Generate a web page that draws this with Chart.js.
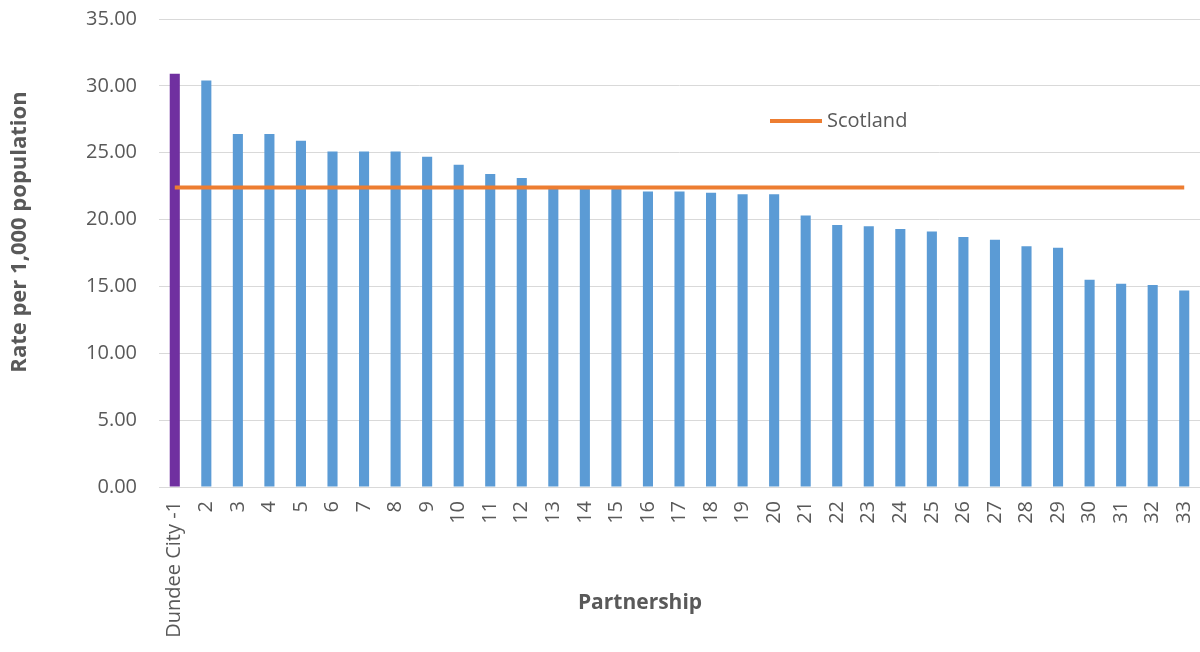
<!DOCTYPE html>
<html>
<head>
<meta charset="utf-8">
<script src="https://cdn.jsdelivr.net/npm/chart.js@4.4.1/dist/chart.umd.min.js"></script>
<style>
  html, body { margin: 0; padding: 0; background: #fff; }
  #wrap { width: 1200px; height: 652px; }
</style>
</head>
<body>
<div id="wrap"><canvas id="myChart" width="1200" height="652"></canvas></div>
<script>
// Partnerships, ranked by rate
var partnerships = ['Dundee City -1', '2', '3', '4', '5', '6', '7', '8', '9', '10', '11',
    '12', '13', '14', '15', '16', '17', '18', '19', '20', '21', '22', '23', '24', '25',
    '26', '27', '28', '29', '30', '31', '32', '33'];

// Rate per 1,000 population
var rates = [30.9, 30.4, 26.4, 26.4, 25.9, 25.1, 25.1, 25.1, 24.7, 24.1, 23.4,
    23.1, 22.3, 22.3, 22.3, 22.1, 22.1, 22.0, 21.9, 21.9, 20.3, 19.6, 19.5, 19.3, 19.1,
    18.7, 18.5, 18.0, 17.9, 15.5, 15.2, 15.1, 14.7];

// Scotland average, same for every partnership
var scotland = [22.4, 22.4, 22.4, 22.4, 22.4, 22.4, 22.4, 22.4, 22.4, 22.4, 22.4,
    22.4, 22.4, 22.4, 22.4, 22.4, 22.4, 22.4, 22.4, 22.4, 22.4, 22.4, 22.4, 22.4, 22.4,
    22.4, 22.4, 22.4, 22.4, 22.4, 22.4, 22.4, 22.4];

var yTicks = [0, 5, 10, 15, 20, 25, 30, 35];

var yTitle = 'Rate per 1,000 population';
var xTitle = 'Partnership';

var FONT = '"Open Sans", "Liberation Sans", sans-serif';
var GREY = '#595959';
var BLUE = '#5B9BD5';
var PURPLE = '#7030A0';
var ORANGE = '#ED7D31';

// axis titles and the in-plot legend
var extras = {
    id: 'extras',
    afterDraw: function(chart) {
        var ctx = chart.ctx;
        ctx.save();
        ctx.fillStyle = GREY;
        ctx.font = 'bold 21px ' + FONT;
        ctx.textAlign = 'center';
        ctx.textBaseline = 'middle';
        ctx.fillText(xTitle, 640, 603);
        ctx.translate(20, 232);
        ctx.rotate(-Math.PI / 2);
        ctx.font = 'bold 22px ' + FONT;
        ctx.fillText(yTitle, 0, 0);
        ctx.restore();

        var ds = chart.data.datasets[1];
        ctx.save();
        ctx.strokeStyle = ds.borderColor;
        ctx.lineWidth = 4;
        ctx.beginPath();
        ctx.moveTo(770, 121);
        ctx.lineTo(822, 121);
        ctx.stroke();
        ctx.fillStyle = GREY;
        ctx.font = '20px ' + FONT;
        ctx.textAlign = 'left';
        ctx.textBaseline = 'middle';
        ctx.fillText(ds.label, 827, 121);
        ctx.restore();
    }
};

var ctx = document.getElementById('myChart').getContext('2d');
var chart = new Chart(ctx, {
    type: 'bar',
    data: {
        labels: partnerships,
        datasets: [{
            label: 'Rate',
            data: rates,
            backgroundColor: function(c) { return c.dataIndex === 0 ? PURPLE : BLUE; },
            barPercentage: 0.32,
            categoryPercentage: 1.0,
            order: 1
        }, {
            type: 'line',
            label: 'Scotland',
            data: scotland,
            borderColor: ORANGE,
            borderWidth: 4,
            pointRadius: 0,
            fill: false,
            order: 0
        }]
    },
    options: {
        responsive: false,
        animation: false,
        layout: { padding: { top: 19, right: 0, bottom: 0, left: 0 } },
        plugins: {
            legend: { display: false },
            tooltip: { enabled: false }
        },
        scales: {
            x: {
                grid: { display: false, drawTicks: false },
                border: { color: '#d9d9d9', width: 1 },
                ticks: {
                    autoSkip: false,
                    maxRotation: 90,
                    minRotation: 90,
                    padding: 14,
                    color: GREY,
                    font: { family: FONT, size: 20 }
                },
                afterFit: function(scale) {
                    scale.height = 165;
                    scale.paddingLeft = 0;
                    scale.paddingRight = 0;
                }
            },
            y: {
                min: 0,
                max: 35,
                afterBuildTicks: function(scale) {
                    scale.ticks = yTicks.map(function(v) { return { value: v }; });
                },
                grid: { color: '#d9d9d9', drawTicks: false },
                border: { display: false },
                ticks: {
                    padding: 22,
                    color: GREY,
                    font: { family: FONT, size: 20 },
                    callback: function(v) { return v.toFixed(2); }
                },
                afterFit: function(scale) {
                    scale.width = 159;
                    scale.paddingTop = 0;
                    scale.paddingBottom = 0;
                }
            }
        }
    },
    plugins: [extras]
});
</script>
</body>
</html>
